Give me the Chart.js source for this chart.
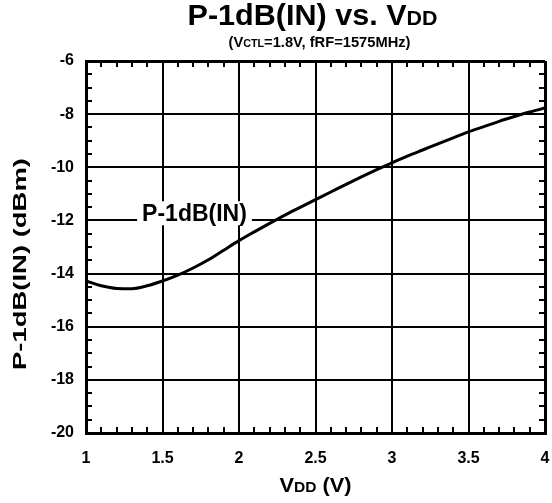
<!DOCTYPE html>
<html>
<head>
<meta charset="utf-8">
<script src="https://cdn.jsdelivr.net/npm/chart.js@4/dist/chart.umd.min.js"></script>
<style>
  body { margin: 0; background: #fff; }
</style>
</head>
<body>
<canvas id="grafico" width="552" height="503"></canvas>
<script>
// datos
const vdd = [1.0, 1.1, 1.2, 1.3, 1.4, 1.5, 1.6, 1.7, 1.8, 1.9, 2.0, 2.1, 2.2, 2.3, 2.4, 2.5,
  2.6, 2.7, 2.8, 2.9, 3.0, 3.1, 3.2, 3.3, 3.4, 3.5, 3.6, 3.7, 3.8, 3.9, 4.0];
const p1db = [-14.28, -14.46, -14.56, -14.57, -14.46, -14.28, -14.06, -13.79, -13.48, -13.12,
  -12.76, -12.43, -12.11, -11.80, -11.51, -11.22, -10.93, -10.64, -10.36, -10.09,
  -9.83, -9.58, -9.35, -9.12, -8.89, -8.67, -8.47, -8.27, -8.09, -7.92, -7.77];
const ticksX = [1, 1.5, 2, 2.5, 3, 3.5, 4];
const ticksY = [-20, -18, -16, -14, -12, -10, -8, -6];
const etiquetaCurva = 'P-1dB(IN)';
const posEtiqueta = { x: 1.709, y: -11.73 };

const fuente = '"Liberation Sans", Arial, sans-serif';

// texto con partes de distinto tamaño (subindices tipo VDD)
function textoMixto(ctx, partes, x, y, ancho) {
  let total = 0;
  partes.forEach(p => {
    ctx.font = `bold ${p[1]}px ${fuente}`;
    total += ctx.measureText(p[0]).width;
  });
  const esc = ancho ? ancho / total : 1;
  ctx.save();
  ctx.translate(x, y);
  ctx.scale(esc, 1);
  let px = -total / 2;
  ctx.textBaseline = 'alphabetic';
  ctx.textAlign = 'left';
  partes.forEach(p => {
    ctx.font = `bold ${p[1]}px ${fuente}`;
    ctx.fillText(p[0], px, 0);
    px += ctx.measureText(p[0]).width;
  });
  ctx.restore();
}

const marcas = {
  id: 'marcas',
  afterDatasetsDraw(chart) {
    const ctx = chart.ctx;
    const a = chart.chartArea;
    const sx = chart.scales.x;
    const sy = chart.scales.y;
    ctx.save();
    ctx.strokeStyle = '#000';
    ctx.lineWidth = 2;
    ctx.beginPath();
    for (let i = 11; i < 40; i++) {
      if (i % 5 === 0) continue;
      const px = Math.round(sx.getPixelForValue(i / 10));
      ctx.moveTo(px, a.bottom); ctx.lineTo(px, a.bottom - 6);
      ctx.moveTo(px, a.top); ctx.lineTo(px, a.top + 6);
    }
    for (let i = -39; i < -12; i++) {
      if (i % 4 === 0) continue;
      const py = Math.round(sy.getPixelForValue(i / 2));
      ctx.moveTo(a.left, py); ctx.lineTo(a.left + 6, py);
      ctx.moveTo(a.right, py); ctx.lineTo(a.right - 6, py);
    }
    ctx.stroke();

    // etiqueta de la curva con fondo blanco
    const ex = sx.getPixelForValue(posEtiqueta.x);
    const ey = sy.getPixelForValue(posEtiqueta.y);
    ctx.font = `bold 23px ${fuente}`;
    const w = ctx.measureText(etiquetaCurva).width;
    ctx.fillStyle = '#fff';
    ctx.fillRect(ex - w / 2 - 5, ey - 12, w + 10, 24);
    ctx.fillStyle = '#000';
    ctx.textAlign = 'center';
    ctx.textBaseline = 'middle';
    ctx.fillText(etiquetaCurva, ex, ey + 1);
    ctx.restore();
  },
  afterDraw(chart) {
    const ctx = chart.ctx;
    const a = chart.chartArea;
    const cx = (a.left + a.right) / 2;
    ctx.save();
    ctx.fillStyle = '#000';
    textoMixto(ctx, [['P-1dB(IN) vs. V', 30], ['DD', 21]], cx - 3, 25, 250);
    textoMixto(ctx, [['(V', 15], ['CTL', 11], ['=1.8V, fRF=1575MHz)', 15]], cx + 4, 47, 182);
    textoMixto(ctx, [['V', 21], ['DD', 15], [' (V)', 21]], cx, 492, 72);
    ctx.translate(26, 264);
    ctx.rotate(-Math.PI / 2);
    textoMixto(ctx, [['P-1dB(IN) (dBm)', 19]], 0, 0, 212);
    ctx.restore();
  }
};

const anchoBorde = (c, lim) => (c.tick && lim.includes(c.tick.value)) ? 3 : 2;

const contexto = document.getElementById('grafico').getContext('2d');
const grafico = new Chart(contexto, {
  type: 'line',
  data: {
    datasets: [{
      label: etiquetaCurva,
      data: vdd.map((v, i) => ({ x: v, y: p1db[i] })),
      borderColor: '#000',
      borderWidth: 3,
      pointRadius: 0,
      tension: 0.4,
      cubicInterpolationMode: 'monotone'
    }]
  },
  options: {
    responsive: false,
    animation: false,
    layout: { padding: { top: 61, right: 7, left: 0, bottom: 0 } },
    plugins: { legend: { display: false }, tooltip: { enabled: false } },
    scales: {
      x: {
        type: 'linear',
        min: 1,
        max: 4,
        afterBuildTicks: s => { s.ticks = ticksX.map(v => ({ value: v })); },
        afterFit: s => { s.height = 70; s.paddingLeft = 0; s.paddingRight = 0; },
        grid: { color: '#000', lineWidth: c => anchoBorde(c, [1, 4]), drawTicks: false },
        border: { color: '#000', width: 3 },
        ticks: {
          color: '#000',
          padding: 16,
          maxRotation: 0,
          font: { family: fuente, size: 16, weight: 'bold' },
          callback: v => String(v)
        }
      },
      y: {
        type: 'linear',
        min: -20,
        max: -6,
        afterBuildTicks: s => { s.ticks = ticksY.map(v => ({ value: v })); },
        afterFit: s => { s.width = 86; s.paddingTop = 0; s.paddingBottom = 0; },
        grid: { color: '#000', lineWidth: c => anchoBorde(c, [-20, -6]), drawTicks: false },
        border: { color: '#000', width: 3 },
        ticks: {
          color: '#000',
          padding: 12,
          font: { family: fuente, size: 16, weight: 'bold' },
          callback: v => String(v)
        }
      }
    }
  },
  plugins: [marcas]
});
</script>
</body>
</html>
